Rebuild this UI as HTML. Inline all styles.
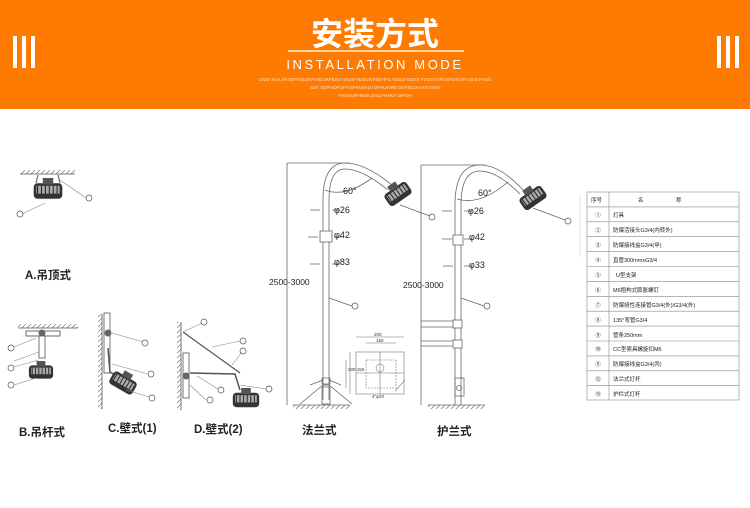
<!DOCTYPE html>
<html><head><meta charset="utf-8"><style>
html,body{margin:0;padding:0;width:750px;height:508px;overflow:hidden;background:#fff}
svg text{font-family:"Liberation Sans","Noto Sans CJK SC",sans-serif}
</style></head><body>
<svg width="750" height="508" viewBox="0 0 750 508" xmlns="http://www.w3.org/2000/svg">
<defs>
<pattern id="hat" width="5" height="5" patternUnits="userSpaceOnUse"><path d="M0 5 L5 0" stroke="#777" stroke-width="0.7"/></pattern>
<g id="lamp">
<rect x="-11" y="-6" width="22" height="12" rx="3" fill="#333"/>
<rect x="-9" y="-4" width="18" height="6" fill="#aaa"/>
<path d="M-8 -4v6M-5 -4v6M-2 -4v6M1 -4v6M4 -4v6M7 -4v6" stroke="#222" stroke-width="0.8"/>
<rect x="-4" y="-10" width="8" height="5" fill="#555"/>
</g>
</defs>
<!-- header -->
<rect x="0" y="0" width="750" height="109" fill="#ff7a00"/>
<g fill="#fff">
<rect x="13" y="36" width="4" height="32"/><rect x="22" y="36" width="4" height="32"/><rect x="31" y="36" width="4" height="32"/>
<rect x="717" y="36" width="4" height="32"/><rect x="726" y="36" width="4" height="32"/><rect x="735" y="36" width="4" height="32"/>
</g>
<text x="375" y="45" text-anchor="middle" font-size="32" font-weight="bold" fill="#fff">安装方式</text>
<rect x="288" y="50" width="176" height="2" fill="#ffd2a0"/>
<text x="375" y="69" text-anchor="middle" font-size="13" fill="#fff" letter-spacing="2.6">INSTALLATION MODE</text>
<g font-size="4.5" fill="#ffe0c0" text-anchor="middle">
<text x="375" y="81">CNSFJKALHFSDFNSDJKFHSDJKFBSD HSDIFHDSUIKFSDHFS ADSUFGDSK FDGSYUFGSFGSDIFFJSID FHSD</text>
<text x="375" y="89">SDF SDFIHDFUIYASFANSKLV DFHUIVRE DVFSDJKVAYUGHS</text>
<text x="375" y="97">FHSDUIFHNSKJDSLFHSKH DIFOH</text>
</g>
<!-- A -->
<rect x="20" y="170" width="55" height="4" fill="url(#hat)"/>
<line x1="20" y1="174" x2="75" y2="174" stroke="#555" stroke-width="0.8"/>
<use href="#lamp" transform="translate(48,191) scale(1.3)"/>
<path d="M38 175 L36 183 M58 175 L60 183" stroke="#555" stroke-width="1" fill="none"/>
<line x1="60" y1="180" x2="86" y2="198" stroke="#888" stroke-width="0.6"/><circle cx="89" cy="198" r="3" fill="none" stroke="#555" stroke-width="0.7"/>
<line x1="45" y1="203" x2="22" y2="214" stroke="#888" stroke-width="0.6"/><circle cx="20" cy="214" r="3" fill="none" stroke="#555" stroke-width="0.7"/>
<text x="25" y="279" font-size="11.5" font-weight="bold" fill="#222">A.吊顶式</text>
<!-- B -->
<rect x="18" y="324" width="60" height="4" fill="url(#hat)"/>
<line x1="18" y1="328" x2="78" y2="328" stroke="#555" stroke-width="0.8"/>
<rect x="26" y="331" width="34" height="5" fill="#fff" stroke="#444" stroke-width="0.8"/>
<circle cx="42" cy="333" r="3.5" fill="#666"/>
<rect x="39" y="336" width="6" height="22" fill="#fff" stroke="#555" stroke-width="0.8"/>
<use href="#lamp" transform="translate(41,372) scale(1.1)"/>
<g stroke="#888" stroke-width="0.6"><line x1="36" y1="338" x2="14" y2="347"/><line x1="39" y1="352" x2="14" y2="361"/><line x1="38" y1="360" x2="14" y2="367"/><line x1="36" y1="378" x2="14" y2="385"/></g>
<g fill="none" stroke="#555" stroke-width="0.7"><circle cx="11" cy="348" r="3"/><circle cx="11" cy="368" r="3"/><circle cx="11" cy="385" r="3"/></g>
<text x="19" y="436" font-size="11.5" font-weight="bold" fill="#222">B.吊杆式</text>
<!-- C -->
<rect x="98" y="314" width="4" height="95" fill="url(#hat)"/>
<line x1="102" y1="314" x2="102" y2="409" stroke="#555" stroke-width="0.8"/>
<rect x="104" y="313" width="6" height="60" fill="#fff" stroke="#555" stroke-width="0.8"/>
<circle cx="108" cy="333" r="3.5" fill="#666"/>
<path d="M108 348 L110 372 L120 378" stroke="#555" stroke-width="1.5" fill="none"/>
<use href="#lamp" transform="translate(123,383) rotate(30) scale(1.2)"/>
<g stroke="#888" stroke-width="0.6"><line x1="112" y1="333" x2="143" y2="342"/><line x1="112" y1="364" x2="148" y2="374"/><line x1="126" y1="390" x2="149" y2="397"/></g>
<g fill="none" stroke="#555" stroke-width="0.7"><circle cx="145" cy="343" r="3"/><circle cx="151" cy="374" r="3"/><circle cx="152" cy="398" r="3"/></g>
<text x="108" y="432" font-size="11.5" font-weight="bold" fill="#222">C.壁式(1)</text>
<!-- D -->
<rect x="177" y="322" width="4" height="88" fill="url(#hat)"/>
<line x1="181" y1="322" x2="181" y2="410" stroke="#555" stroke-width="0.8"/>
<rect x="183" y="353" width="6" height="45" fill="#fff" stroke="#555" stroke-width="0.8"/>
<circle cx="186" cy="376" r="3.5" fill="#666"/>
<line x1="183" y1="332" x2="240" y2="373" stroke="#555" stroke-width="1.2"/>
<path d="M190 373 L235 374 L240 390" stroke="#555" stroke-width="1.5" fill="none"/>
<use href="#lamp" transform="translate(246,400) scale(1.2)"/>
<g stroke="#888" stroke-width="0.6"><line x1="183" y1="332" x2="202" y2="323"/><line x1="212" y1="347" x2="240" y2="341"/><line x1="232" y1="365" x2="242" y2="352"/><line x1="240" y1="385" x2="266" y2="389"/><line x1="197" y1="376" x2="218" y2="389"/><line x1="190" y1="385" x2="206" y2="400"/></g>
<g fill="none" stroke="#555" stroke-width="0.7"><circle cx="204" cy="322" r="3"/><circle cx="243" cy="341" r="3"/><circle cx="243" cy="351" r="3"/><circle cx="269" cy="389" r="3"/><circle cx="221" cy="390" r="3"/><circle cx="210" cy="400" r="3"/></g>
<text x="194" y="433" font-size="11.5" font-weight="bold" fill="#222">D.壁式(2)</text>
<!-- pole 1 -->
<g stroke="#666" stroke-width="0.8" fill="none">
<line x1="287" y1="163" x2="350" y2="163"/><line x1="287" y1="163" x2="287" y2="405"/>
<path d="M323 400 L323 200 Q323 163 345 163 Q365 163 392 185"/>
<path d="M329 400 L329 201 Q329 169 345 169 Q362 169 388 190"/>
<rect x="320" y="231" width="12" height="11" fill="#fff"/>
<path d="M310 385 L323 380 M341 385 L329 380 M300 404 L323 385 L329 385 L352 404"/>
<rect x="322" y="378" width="8" height="6"/><rect x="322" y="387" width="8" height="17"/>
<line x1="293" y1="405" x2="350" y2="405"/>
<path d="M310 210h10M332 210h8M308 237h10M334 237h8M310 264h10M332 264h8"/>
<line x1="329" y1="298" x2="352" y2="306"/><line x1="400" y1="205" x2="430" y2="216"/>
<path d="M325 190 Q345 198 372 178"/>
</g>
<rect x="293" y="405" width="57" height="4" fill="url(#hat)"/>
<use href="#lamp" transform="translate(398,194) rotate(-35) scale(1.2)"/>
<g font-size="9" fill="#222">
<text x="343" y="194">60°</text><text x="334" y="213">φ26</text><text x="334" y="238">φ42</text><text x="334" y="265">φ83</text>
<text x="269" y="285" font-size="8.5">2500-3000</text>
</g>
<g fill="none" stroke="#555" stroke-width="0.7"><circle cx="355" cy="306" r="3"/><circle cx="432" cy="217" r="3"/></g>
<!-- flange detail -->
<g stroke="#777" stroke-width="0.6" fill="none">
<rect x="356" y="352" width="48" height="42"/><rect x="366" y="360" width="30" height="28" stroke-dasharray="2 1"/>
<line x1="380" y1="352" x2="380" y2="394"/><line x1="356" y1="373" x2="404" y2="373"/>
<circle cx="380" cy="368" r="4"/><line x1="356" y1="337" x2="404" y2="337"/><line x1="366" y1="343" x2="396" y2="343"/>
<line x1="350" y1="352" x2="350" y2="394"/><line x1="346" y1="360" x2="346" y2="388"/>
<line x1="395" y1="391" x2="405" y2="380"/>
</g>
<g font-size="4.5" fill="#333"><text x="374" y="336">200</text><text x="376" y="342">150</text><text x="348" y="371">200 150</text><text x="372" y="398">4"φ20</text></g>
<!-- pole 2 -->
<g stroke="#666" stroke-width="0.8" fill="none">
<line x1="421" y1="165" x2="485" y2="165"/><line x1="421" y1="165" x2="421" y2="405"/>
<path d="M455 405 L455 205 Q455 165 480 165 Q500 165 523 190"/>
<path d="M461 405 L461 205 Q461 171 480 171 Q497 171 520 194"/>
<rect x="453" y="235" width="10" height="10" fill="#fff"/>
<path d="M421 321h36M421 327h36M421 341h36M421 346h36"/>
<rect x="453" y="320" width="9" height="8" fill="#fff"/><rect x="453" y="340" width="9" height="8" fill="#fff"/>
<rect x="455" y="378" width="9" height="18"/><circle cx="459" cy="388" r="2.5"/>
<line x1="428" y1="405" x2="485" y2="405"/>
<path d="M442 211h10M464 211h8M442 239h10M464 239h8M443 266h10M464 266h8"/>
<line x1="461" y1="298" x2="484" y2="306"/><line x1="533" y1="208" x2="565" y2="220"/>
<path d="M457 199 Q480 206 508 182"/>
</g>
<rect x="428" y="405" width="57" height="4" fill="url(#hat)"/>
<use href="#lamp" transform="translate(533,198) rotate(-35) scale(1.2)"/>
<g font-size="9" fill="#222">
<text x="478" y="196">60°</text><text x="468" y="214">φ26</text><text x="469" y="240">φ42</text><text x="469" y="268">φ33</text>
<text x="403" y="288" font-size="8.5">2500-3000</text>
</g>
<g fill="none" stroke="#555" stroke-width="0.7"><circle cx="487" cy="306" r="3"/><circle cx="568" cy="221" r="3"/></g>
<text x="302" y="434" font-size="11.5" font-weight="bold" fill="#222">法兰式</text>
<text x="437" y="435" font-size="11.5" font-weight="bold" fill="#222">护兰式</text>
<line x1="580" y1="195" x2="580" y2="257" stroke="#ccc" stroke-width="0.6"/>
<!-- table -->
<g stroke="#888" stroke-width="0.6" fill="none">
<rect x="587" y="192" width="152" height="208"/>
<line x1="609" y1="192" x2="609" y2="400"/>
<path d="M587 206.9h152M587 221.8h152M587 236.7h152M587 251.6h152M587 266.5h152M587 281.4h152M587 296.3h152M587 311.2h152M587 326.1h152M587 341h152M587 355.9h152M587 370.8h152M587 385.7h152"/>
</g>
<g font-size="5.5" fill="#222">
<text x="591" y="202">序号</text><text x="638" y="202">名</text><text x="676" y="202">称</text>
<g text-anchor="middle"><text x="598" y="217">①</text><text x="598" y="232">②</text><text x="598" y="247">③</text><text x="598" y="262">④</text><text x="598" y="277">⑤</text><text x="598" y="292">⑥</text><text x="598" y="307">⑦</text><text x="598" y="322">⑧</text><text x="598" y="337">⑨</text><text x="598" y="351">⑩</text><text x="598" y="366">⑪</text><text x="598" y="381">⑫</text><text x="598" y="396">⑬</text></g>
<text x="613" y="217">灯具</text><text x="613" y="232">防爆活接头G3/4(内转外)</text><text x="613" y="247">防爆接线盒G3/4(甲)</text><text x="613" y="262">直管300mmxG3/4</text><text x="616" y="277">U型支架</text><text x="613" y="292">M6抱构式膨胀螺钉</text><text x="613" y="307">防爆挠性连接管G3/4(外)/G3/4(外)</text><text x="613" y="322">135°弯管G3/4</text><text x="613" y="337">管条250mm</text><text x="613" y="351">CC型索具螺旋扣M6</text><text x="613" y="366">防爆接线盒G3/4(丙)</text><text x="613" y="381">法兰式灯杆</text><text x="613" y="396">护栏式灯杆</text>
</g>
</svg>
</body></html>
